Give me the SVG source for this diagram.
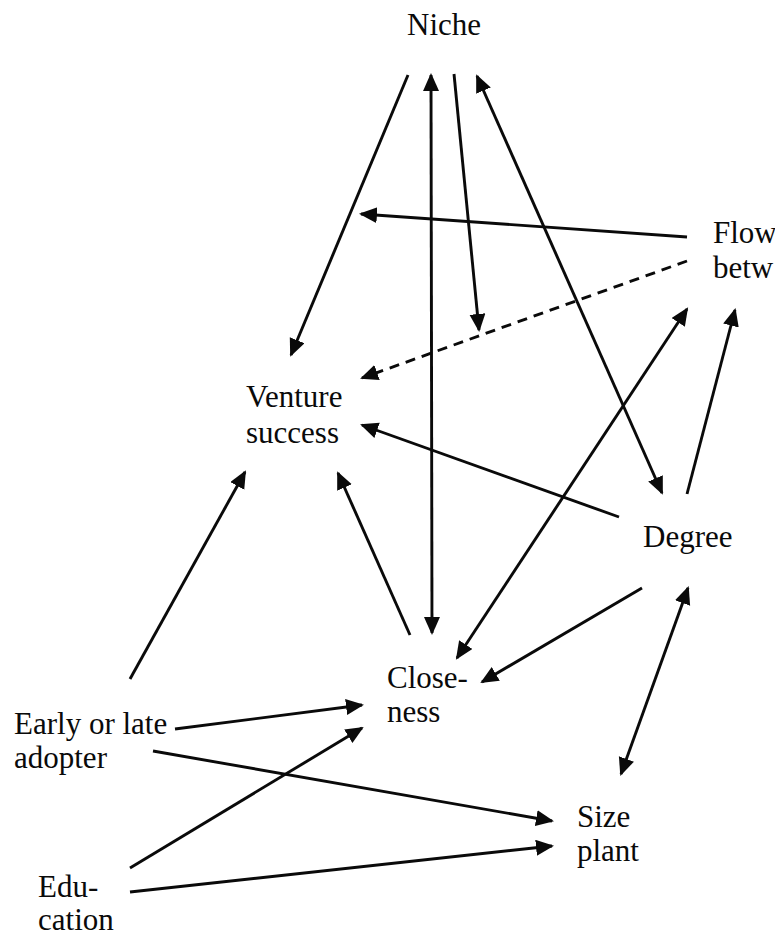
<svg xmlns="http://www.w3.org/2000/svg" width="775" height="937" viewBox="0 0 775 937">
  <style>
    .lbl { font-family: "Liberation Serif", "Times New Roman", serif; font-size: 31px; fill: #0a0a0a; }
    .edge { stroke: #0a0a0a; stroke-width: 2.9; fill: none; marker-end: url(#head); }
    .both { marker-start: url(#head); }
    .dash { stroke-dasharray: 10 7; }
  </style>
  <defs>
    <marker id="head" markerUnits="userSpaceOnUse" markerWidth="19" markerHeight="17" refX="16" refY="8" orient="auto-start-reverse">
      <path d="M0,0 L18,8 L0,16 Z" fill="#0a0a0a"/>
    </marker>
  </defs>
  <rect width="775" height="937" fill="#fff"/>

  <g id="connectors">
    <!-- Niche -> Venture success -->
    <line class="edge" x1="408" y1="75" x2="291" y2="355"/>
    <!-- Niche <-> Closeness -->
    <line class="edge both" x1="431" y1="75" x2="432" y2="633"/>
    <!-- Niche moderating the Flow -> Venture path -->
    <line class="edge" x1="454" y1="74" x2="479" y2="330"/>
    <!-- Niche <-> Degree -->
    <line class="edge both" x1="477" y1="76" x2="662" y2="493"/>
    <!-- Flow betw -> Niche side -->
    <line class="edge" x1="687" y1="237" x2="361" y2="214"/>
    <!-- Flow betw -> Venture success (dashed) -->
    <line class="edge dash" x1="687" y1="261" x2="362" y2="378"/>
    <!-- Closeness <-> Flow betw -->
    <line class="edge both" x1="457" y1="658" x2="687" y2="309"/>
    <!-- Degree -> Flow betw -->
    <line class="edge" x1="687" y1="494" x2="735" y2="310"/>
    <!-- Degree -> Venture success -->
    <line class="edge" x1="619" y1="517" x2="362" y2="425"/>
    <!-- Closeness -> Venture success -->
    <line class="edge" x1="410" y1="635" x2="338" y2="473"/>
    <!-- Early or late adopter -> Venture success -->
    <line class="edge" x1="130" y1="679" x2="245" y2="472"/>
    <!-- Degree -> Closeness -->
    <line class="edge" x1="642" y1="588" x2="482" y2="682"/>
    <!-- Size plant <-> Degree -->
    <line class="edge both" x1="621" y1="774" x2="688" y2="588"/>
    <!-- Early or late adopter -> Closeness -->
    <line class="edge" x1="175" y1="729" x2="362" y2="705"/>
    <!-- Early or late adopter -> Size plant -->
    <line class="edge" x1="153" y1="751" x2="552" y2="821"/>
    <!-- Education -> Closeness -->
    <line class="edge" x1="130" y1="868" x2="362" y2="728"/>
    <!-- Education -> Size plant -->
    <line class="edge" x1="130" y1="892" x2="552" y2="846"/>
  </g>

  <g id="niche"><text class="lbl" x="407" y="35">Niche</text></g>
  <g id="flow-betw">
    <text class="lbl" x="713" y="243">Flow</text>
    <text class="lbl" x="713" y="278">betw</text>
  </g>
  <g id="venture-success">
    <text class="lbl" x="246" y="407">Venture</text>
    <text class="lbl" x="246" y="443">success</text>
  </g>
  <g id="degree"><text class="lbl" x="643" y="547">Degree</text></g>
  <g id="closeness">
    <text class="lbl" x="387" y="688">Close-</text>
    <text class="lbl" x="387" y="722">ness</text>
  </g>
  <g id="early-late-adopter">
    <text class="lbl" x="14" y="734">Early or late</text>
    <text class="lbl" x="14" y="768">adopter</text>
  </g>
  <g id="education">
    <text class="lbl" x="38" y="897">Edu-</text>
    <text class="lbl" x="38" y="930">cation</text>
  </g>
  <g id="size-plant">
    <text class="lbl" x="577" y="827">Size</text>
    <text class="lbl" x="577" y="861">plant</text>
  </g>
</svg>
